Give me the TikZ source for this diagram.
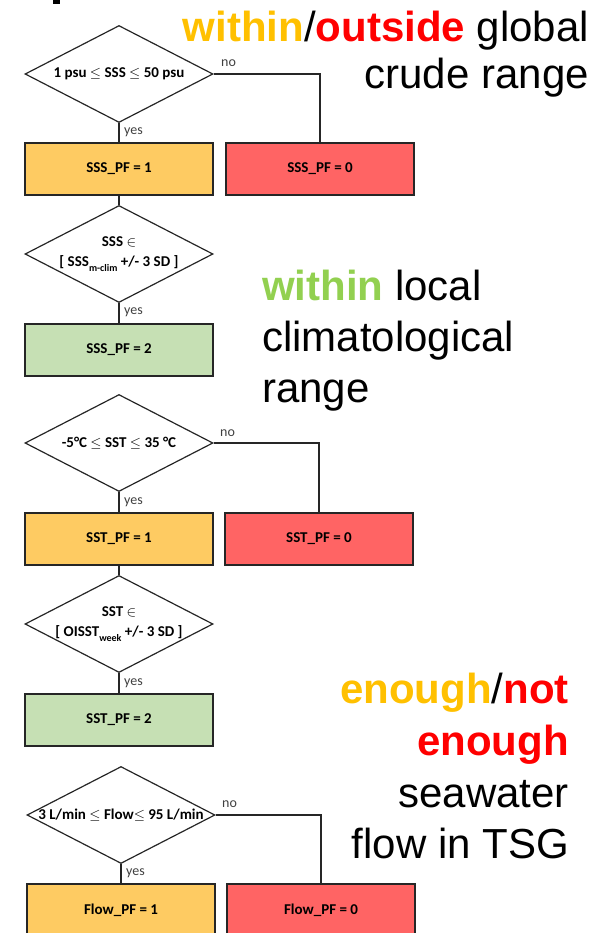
\documentclass[tikz,border=0pt]{standalone}
\usepackage{fontspec}
\setmainfont{Carlito}
\newfontfamily\arialfont{Liberation Sans}
\usetikzlibrary{shapes.geometric}

\definecolor{passorange}{RGB}{254,203,98}
\definecolor{failred}{RGB}{255,100,100}
\definecolor{goodgreen}{RGB}{198,224,180}
\definecolor{txtorange}{RGB}{255,192,0}
\definecolor{txtred}{RGB}{255,0,0}
\definecolor{txtgreen}{RGB}{146,208,80}
\definecolor{edgegray}{RGB}{38,38,38}
\definecolor{labelgray}{RGB}{64,64,64}

\newcommand{\lowidx}[1]{\raisebox{-0.3em}{\fontsize{10}{10}\selectfont #1}}

\tikzset{
  test/.style={diamond, draw=edgegray, line width=1.2pt, fill=white, aspect=1.94,
    inner sep=-20pt, minimum width=188pt, minimum height=97pt,
    font=\bfseries\fontsize{15}{19}\selectfont, align=center},
  flag/.style={rectangle, draw=edgegray, line width=1.4pt, inner sep=0pt,
    minimum width=188pt, minimum height=52pt, font=\bfseries\fontsize{15}{18}\selectfont},
  okflag/.style={flag, fill=passorange},
  badflag/.style={flag, fill=failred},
  climflag/.style={flag, fill=goodgreen},
  link/.style={draw=edgegray, line width=1.2pt},
  branch/.style={font=\fontsize{14}{16}\selectfont, text=labelgray, inner sep=0pt},
  note/.style={font=\arialfont\fontsize{42}{48}\selectfont, inner sep=0pt}
}

\begin{document}
\begin{tikzpicture}[x=1pt,y=-1pt]
\useasboundingbox (0,0) rectangle (599,933);

% fragment of a heading glyph cut by the top edge
\fill (53,0) rectangle (60,4);

% ---- salinity: global crude range
\node[test] (d1) at (119,74) {1 psu $\le$ SSS $\le$ 50 psu};
\node[okflag] (s1) at (119,169) {SSS\_PF = 1};
\node[badflag] (s0) at (320,169) {SSS\_PF = 0};
\coordinate (d1turn) at (320,74);
\draw[link] (d1.south) -- (s1.north);
\draw[link] (d1.east) -- (d1turn) -- (s0.north);
\node[branch, anchor=west] (d1no) at (221,63) {no};
\node[branch, anchor=west] (d1yes) at (124,132) {yes};

% ---- salinity: local climatology
\node[test] (d2) at (119,254) {SSS $\in$\\[1pt] [ SSS\lowidx{m-clim} +/- 3 SD ]};
\node[climflag] (s2) at (119,350) {SSS\_PF = 2};
\draw[link] (s1.south) -- (d2.north);
\draw[link] (d2.south) -- (s2.north);
\node[branch, anchor=west] (d2yes) at (124,312) {yes};

% ---- temperature: global crude range
\node[test] (d3) at (119,443) {-5\textdegree C $\le$ SST $\le$ 35 \textdegree C};
\node[okflag] (t1) at (119,539) {SST\_PF = 1};
\node[badflag] (t0) at (319,539) {SST\_PF = 0};
\coordinate (d3turn) at (319,443);
\draw[link] (d3.south) -- (t1.north);
\draw[link] (d3.east) -- (d3turn) -- (t0.north);
\node[branch, anchor=west] (d3no) at (220,433) {no};
\node[branch, anchor=west] (d3yes) at (124,502) {yes};

% ---- temperature: weekly OISST
\node[test] (d4) at (119,624) {SST $\in$\\[1pt] [ OISST\lowidx{week} +/- 3 SD ]};
\node[climflag] (t2) at (119,720) {SST\_PF = 2};
\draw[link] (t1.south) -- (d4.north);
\draw[link] (d4.south) -- (t2.north);
\node[branch, anchor=west] (d4yes) at (124,683) {yes};

% ---- seawater flow
\node[test] (d5) at (121,815) {3 L/min $\le$ Flow$\le$ 95 L/min};
\node[okflag] (f1) at (121,910) {Flow\_PF = 1};
\node[badflag] (f0) at (321,910) {Flow\_PF = 0};
\coordinate (d5turn) at (321,815);
\draw[link] (d5.south) -- (f1.north);
\draw[link] (d5.east) -- (d5turn) -- (f0.north);
\node[branch, anchor=west] (d5no) at (222,804) {no};
\node[branch, anchor=west] (d5yes) at (126,873) {yes};

% ---- side notes
\node[note, anchor=base east] (n1a) at (589,42)
  {\textbf{\textcolor{txtorange}{within}}/\textbf{\textcolor{txtred}{outside}} global};
\node[note, anchor=base east] (n1b) at (589,89) {crude range};

\node[note, anchor=base west] (n2a) at (262,300) {\textbf{\textcolor{txtgreen}{within}} local};
\node[note, anchor=base west] (n2b) at (262,351) {climatological};
\node[note, anchor=base west] (n2c) at (262,402) {range};

\node[note, anchor=base east] (n3a) at (569,703)
  {\textbf{\textcolor{txtorange}{enough}}/\textbf{\textcolor{txtred}{not}}};
\node[note, anchor=base east] (n3b) at (569,755) {\textbf{\textcolor{txtred}{enough}}};
\node[note, anchor=base east] (n3c) at (569,807) {seawater};
\node[note, anchor=base east] (n3d) at (569,858) {flow in TSG};
\end{tikzpicture}
\end{document}
